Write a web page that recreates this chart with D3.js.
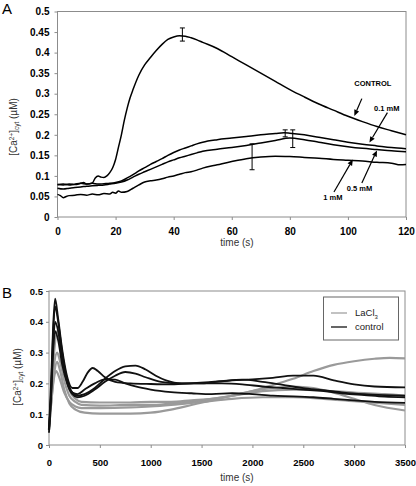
<!DOCTYPE html>
<html><head><meta charset="utf-8">
<script src="https://cdn.jsdelivr.net/npm/d3@7/dist/d3.min.js"></script>
<style>
body{margin:0;background:#fff;}
svg{display:block;font-family:"Liberation Sans",Arial,sans-serif;}
</style></head>
<body>
<svg id="c" width="416" height="486"></svg>
<script>
// ---------- Panel A data ----------
const aXTicks = [0,20,40,60,80,100,120];
const aYTicks = [0,0.05,0.1,0.15,0.2,0.25,0.3,0.35,0.4,0.45,0.5];
const aControl = [[0,0.08],[2,0.078],[4,0.08],[6,0.079],[8,0.082],[9,0.084],[10,0.08],[12,0.083],[13,0.095],[14,0.1],[15,0.097],[16,0.096],[17,0.1],[18,0.108],[19,0.12],[20,0.14],[21,0.17],[22,0.2],[23,0.235],[24,0.265],[25,0.29],[26,0.31],[28,0.345],[30,0.37],[32,0.388],[34,0.405],[36,0.42],[38,0.432],[40,0.438],[42,0.441],[44,0.44],[46,0.436],[48,0.431],[50,0.425],[55,0.41],[60,0.39],[65,0.37],[70,0.35],[75,0.33],[80,0.31],[85,0.292],[90,0.275],[95,0.26],[100,0.245],[105,0.232],[110,0.22],[115,0.21],[120,0.2]];
const a01mM = [[0,0.078],[2,0.08],[4,0.078],[6,0.08],[8,0.082],[10,0.08],[12,0.082],[14,0.08],[16,0.081],[18,0.082],[20,0.084],[22,0.088],[24,0.095],[26,0.103],[28,0.112],[30,0.12],[32,0.128],[34,0.135],[36,0.142],[38,0.15],[40,0.157],[42,0.163],[44,0.168],[46,0.173],[48,0.178],[50,0.182],[55,0.188],[60,0.192],[65,0.196],[70,0.2],[75,0.203],[78,0.205],[80,0.204],[85,0.2],[90,0.194],[95,0.188],[100,0.182],[105,0.177],[110,0.173],[115,0.169],[120,0.166]];
const a05mM = [[0,0.07],[2,0.068],[4,0.07],[6,0.072],[8,0.073],[10,0.075],[12,0.076],[14,0.077],[16,0.078],[18,0.08],[20,0.082],[22,0.085],[24,0.09],[26,0.097],[28,0.104],[30,0.11],[32,0.116],[34,0.122],[36,0.128],[38,0.134],[40,0.139],[42,0.144],[44,0.148],[46,0.152],[48,0.156],[50,0.16],[55,0.165],[60,0.169],[65,0.174],[70,0.18],[75,0.186],[80,0.192],[85,0.188],[90,0.182],[95,0.176],[100,0.171],[105,0.167],[110,0.164],[115,0.161],[120,0.159]];
const a1mM = [[0,0.055],[1,0.052],[2,0.047],[3,0.05],[4,0.052],[6,0.053],[8,0.055],[10,0.053],[12,0.056],[14,0.054],[16,0.057],[18,0.056],[19,0.06],[20,0.058],[21,0.063],[22,0.06],[24,0.062],[26,0.07],[28,0.078],[30,0.085],[32,0.088],[34,0.09],[36,0.093],[38,0.097],[40,0.1],[42,0.104],[44,0.108],[46,0.11],[48,0.114],[50,0.119],[55,0.127],[60,0.135],[65,0.142],[70,0.146],[75,0.148],[80,0.147],[85,0.145],[90,0.143],[95,0.14],[100,0.138],[105,0.136],[110,0.133],[115,0.131],[118,0.127],[120,0.128]];
const errT  = [43, 78.4, 81, 67];
const errLo = [0.428, 0.195, 0.169, 0.115];
const errHi = [0.46, 0.212, 0.212, 0.178];
const annText = ["CONTROL","0.1 mM","0.5 mM","1 mM"];
const annTextT = [108.6, 113.4, 104, 94.8];
const annTextV = [0.325, 0.265, 0.07, 0.048];
const annFromT = [104.8, 113.6, 104.8, 95.2];
const annFromV = [0.288, 0.254, 0.083, 0.061];
const annToT = [102.2, 107.4, 110, 101.7];
const annToV = [0.246, 0.181, 0.162, 0.14];

// ---------- Panel B data ----------
const bXTicks = [0,500,1000,1500,2000,2500,3000,3500];
const bYTicks = [0,0.1,0.2,0.3,0.4,0.5];
const bSeriesNames = ["LaCl3","control"];
const bLaCl3 = [
 [[0,0.05],[20,0.15],[50,0.3],[80,0.37],[110,0.33],[150,0.25],[200,0.18],[260,0.15],[320,0.14],[500,0.138],[800,0.138],[1000,0.14],[1200,0.14],[1400,0.145],[1600,0.15],[1800,0.16],[2000,0.175],[2200,0.195],[2400,0.215],[2600,0.24],[2800,0.26],[3000,0.272],[3200,0.28],[3350,0.283],[3500,0.281]],
 [[0,0.05],[20,0.14],[50,0.26],[80,0.3],[110,0.27],[150,0.21],[200,0.16],[260,0.14],[320,0.13],[500,0.128],[800,0.13],[1000,0.13],[1200,0.135],[1500,0.145],[1800,0.16],[2100,0.175],[2400,0.18],[2700,0.177],[3000,0.17],[3300,0.165],[3500,0.16]],
 [[0,0.05],[20,0.13],[50,0.22],[70,0.24],[100,0.22],[150,0.17],[200,0.14],[260,0.125],[320,0.12],[500,0.12],[800,0.122],[1000,0.125],[1200,0.13],[1500,0.14],[1800,0.15],[2100,0.155],[2400,0.155],[2700,0.15],[3000,0.142],[3300,0.135],[3500,0.13]],
 [[0,0.05],[20,0.13],[50,0.23],[80,0.27],[110,0.24],[150,0.18],[200,0.135],[260,0.115],[350,0.105],[500,0.102],[800,0.102],[1000,0.105],[1200,0.115],[1400,0.13],[1600,0.145],[1800,0.16],[2000,0.175],[2200,0.185],[2400,0.19],[2600,0.185],[2800,0.17],[3000,0.15],[3200,0.13],[3500,0.112]]
];
const bControl = [
 [[0,0.05],[20,0.2],[40,0.38],[60,0.475],[90,0.41],[130,0.31],[180,0.22],[230,0.185],[280,0.185],[330,0.205],[380,0.235],[430,0.25],[480,0.24],[550,0.22],[650,0.205],[800,0.2],[1000,0.198],[1200,0.197],[1400,0.2],[1600,0.205],[1800,0.21],[2000,0.213],[2200,0.218],[2400,0.225],[2600,0.225],[2800,0.21],[3000,0.197],[3200,0.19],[3500,0.187]],
 [[0,0.04],[20,0.17],[40,0.36],[60,0.45],[90,0.4],[130,0.3],[180,0.21],[230,0.17],[280,0.16],[350,0.165],[450,0.185],[550,0.215],[650,0.24],[750,0.255],[850,0.258],[950,0.245],[1050,0.225],[1150,0.21],[1300,0.2],[1500,0.2],[1700,0.2],[1900,0.197],[2100,0.19],[2300,0.185],[2500,0.18],[2700,0.175],[2900,0.167],[3100,0.162],[3300,0.157],[3500,0.155]],
 [[0,0.05],[20,0.16],[40,0.32],[60,0.4],[90,0.37],[130,0.28],[180,0.2],[230,0.165],[280,0.155],[350,0.16],[450,0.18],[550,0.205],[650,0.225],[750,0.237],[850,0.232],[950,0.22],[1100,0.205],[1300,0.2],[1500,0.2],[1700,0.207],[1900,0.212],[2100,0.205],[2300,0.195],[2500,0.185],[2700,0.178],[2900,0.17],[3100,0.165],[3300,0.162],[3500,0.16]],
 [[0,0.05],[20,0.15],[40,0.3],[60,0.37],[90,0.34],[130,0.26],[180,0.2],[230,0.17],[280,0.165],[350,0.18],[450,0.2],[550,0.213],[650,0.212],[750,0.2],[850,0.19],[1000,0.18],[1200,0.172],[1400,0.168],[1600,0.165],[1800,0.168],[2000,0.165],[2200,0.16],[2400,0.158],[2600,0.155],[2800,0.15],[3000,0.145],[3200,0.14],[3500,0.137]]
];

const svg = d3.select("#c");
const GRAY_AX = "#8c8c8c";
const FONT = '"Liberation Sans",Arial,sans-serif';

function frame(g, x, y, xt, yt, fmtY, fs, xpad, ypad){
  const [x0,x1] = x.range(), [y0,y1] = y.range();
  g.append("rect").attr("x",x0).attr("y",y1).attr("width",x1-x0).attr("height",y0-y1)
    .attr("fill","none").attr("stroke",GRAY_AX).attr("stroke-width",1);
  const ax = g.append("g").attr("transform",`translate(0,${y0})`)
    .call(d3.axisBottom(x).tickValues(xt).tickSize(3).tickPadding(xpad).tickFormat(d3.format("d")));
  const ay = g.append("g").attr("transform",`translate(${x0},0)`)
    .call(d3.axisLeft(y).tickValues(yt).tickSize(3).tickPadding(ypad).tickFormat(fmtY));
  [ax,ay].forEach(a=>{
    a.select(".domain").remove();
    a.selectAll("line").attr("stroke",GRAY_AX);
    a.selectAll("text").attr("font-family",FONT).attr("font-size",fs).attr("font-weight","bold").attr("fill","#000");
  });
}
function ylabel(g, cx, cy){
  const t = g.append("text").attr("transform",`translate(${cx},${cy}) rotate(-90)`)
    .attr("text-anchor","middle").attr("font-size",10).attr("fill","#333");
  t.append("tspan").text("[Ca");
  t.append("tspan").text("2+").attr("font-size",6.5).attr("dy",-3.5);
  t.append("tspan").text("]").attr("dy",3.5);
  t.append("tspan").text("cyt").attr("font-size",6.5).attr("dy",2);
  t.append("tspan").text(" (µM)").attr("dy",-2);
}
const fmtA = d => d===0 ? "0" : d3.format("")(+d.toFixed(2));

// ---------- Panel A ----------
const gA = svg.append("g");
const xA = d3.scaleLinear().domain([0,120]).range([57.5,406]);
const yA = d3.scaleLinear().domain([0,0.5]).range([217,11.5]);
frame(gA, xA, yA, aXTicks, aYTicks, fmtA, 10, 8, 5);
const lineA = d3.line().x(d=>xA(d[0])).y(d=>yA(d[1])).curve(d3.curveMonotoneX);
[aControl,a01mM,a05mM,a1mM].forEach(s=>{
  gA.append("path").datum(s).attr("d",lineA).attr("fill","none").attr("stroke","#000").attr("stroke-width",1.5);
});
errT.forEach((t,i)=>{
  const x = xA(t);
  gA.append("line").attr("x1",x).attr("x2",x).attr("y1",yA(errLo[i])).attr("y2",yA(errHi[i])).attr("stroke","#000").attr("stroke-width",1);
  [errLo[i],errHi[i]].forEach(v=>{
    gA.append("line").attr("x1",x-2.5).attr("x2",x+2.5).attr("y1",yA(v)).attr("y2",yA(v)).attr("stroke","#000").attr("stroke-width",1);
  });
});
annText.forEach((s,i)=>{
  gA.append("text").attr("x",xA(annTextT[i])).attr("y",yA(annTextV[i])).attr("dy","0.35em")
    .attr("text-anchor","middle").attr("font-size",7.5).attr("font-weight","bold").text(s);
  const x1 = xA(annFromT[i]), y1 = yA(annFromV[i]), x2 = xA(annToT[i]), y2 = yA(annToV[i]);
  const ang = Math.atan2(y2-y1, x2-x1), L = 6, W = 2.6;
  const bx = x2 - L*Math.cos(ang), by = y2 - L*Math.sin(ang);
  gA.append("line").attr("x1",x1).attr("y1",y1).attr("x2",bx).attr("y2",by).attr("stroke","#000").attr("stroke-width",1.2);
  gA.append("path").attr("d",`M${x2},${y2}L${bx - W*Math.sin(ang)},${by + W*Math.cos(ang)}L${bx + W*Math.sin(ang)},${by - W*Math.cos(ang)}Z`).attr("fill","#000");
});
gA.append("text").attr("x",237).attr("y",246).attr("text-anchor","middle").attr("font-size",10).attr("fill","#333").text("time (s)");
ylabel(gA, 17, 127);
svg.append("text").attr("x",2).attr("y",13.5).attr("font-size",15).text("A");

// ---------- Panel B ----------
const gB = svg.append("g");
const xB = d3.scaleLinear().domain([0,3500]).range([49,405]);
const yB = d3.scaleLinear().domain([0,0.5]).range([445,291]);
frame(gB, xB, yB, bXTicks, bYTicks, d => d===0 ? "0" : d3.format(".1f")(d), 9.5, 11, 3);
const lineB = d3.line().x(d=>xB(d[0])).y(d=>yB(d[1])).curve(d3.curveMonotoneX);
bLaCl3.forEach(s=>{
  gB.append("path").datum(s).attr("d",lineB).attr("fill","none").attr("stroke","#9a9a9a").attr("stroke-width",2.2);
});
bControl.forEach(s=>{
  gB.append("path").datum(s).attr("d",lineB).attr("fill","none").attr("stroke","#111").attr("stroke-width",1.8);
});
// legend
const lg = gB.append("g");
lg.append("rect").attr("x",323.5).attr("y",297).attr("width",75).attr("height",43).attr("fill","#fff").attr("stroke","#666").attr("stroke-width",1);
const legColors = ["#9a9a9a","#000"];
bSeriesNames.forEach((n,i)=>{
  const yy = 313 + i*14;
  lg.append("line").attr("x1",331).attr("x2",347).attr("y1",yy).attr("y2",yy).attr("stroke",legColors[i]).attr("stroke-width",1.2);
  const t = lg.append("text").attr("x",355).attr("y",yy).attr("dy","0.35em").attr("font-size",9.5).attr("fill","#222");
  if(n==="LaCl3"){ t.append("tspan").text("LaCl"); t.append("tspan").text("3").attr("font-size",6).attr("dy",2.5); }
  else t.text(n);
});
gB.append("text").attr("x",237).attr("y",481).attr("text-anchor","middle").attr("font-size",10).attr("fill","#333").text("time (s)");
ylabel(gB, 21, 377);
svg.append("text").attr("x",2).attr("y",298).attr("font-size",15).text("B");
</script>
</body></html>
